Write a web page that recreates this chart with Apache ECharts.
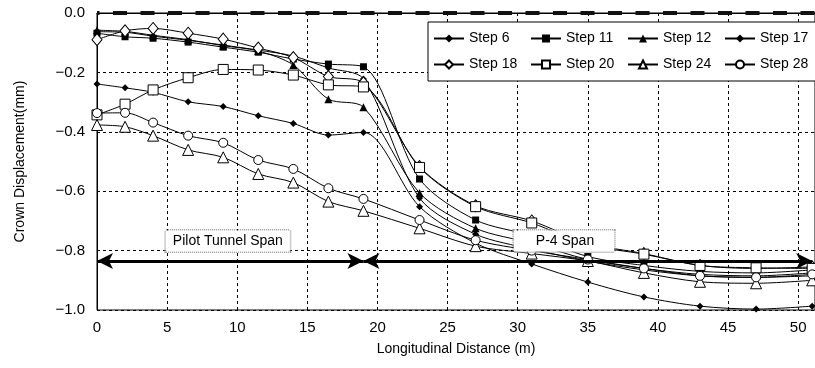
<!DOCTYPE html>
<html>
<head>
<meta charset="utf-8">
<script src="https://cdn.jsdelivr.net/npm/echarts@6/dist/echarts.min.js"></script>
<style>
  html, body { margin: 0; padding: 0; background: #fff; }
  #chart { width: 815px; height: 368px; }
</style>
</head>
<body>
<div id="chart"></div>
<script>
// longitudinal distance of the measuring points (m)
var distance = [0, 2, 4, 6.5, 9, 11.5, 14, 16.5, 19, 23, 27, 31, 35, 39, 43, 47, 51];

// crown displacement (mm) per excavation step
var step6  = [-0.063, -0.065, -0.078, -0.092, -0.108, -0.125, -0.145, -0.185, -0.222, -0.623, -0.745, -0.795, -0.835, -0.865, -0.885, -0.89, -0.885];
var step11 = [-0.068, -0.08, -0.085, -0.098, -0.115, -0.132, -0.155, -0.172, -0.181, -0.559, -0.697, -0.75, -0.82, -0.85, -0.87, -0.875, -0.865];
var step12 = [-0.058, -0.062, -0.075, -0.09, -0.11, -0.128, -0.175, -0.29, -0.317, -0.606, -0.725, -0.775, -0.83, -0.86, -0.88, -0.885, -0.875];
var step17 = [-0.239, -0.252, -0.267, -0.299, -0.315, -0.346, -0.372, -0.411, -0.402, -0.652, -0.775, -0.845, -0.906, -0.956, -0.987, -0.997, -0.987];
var step18 = [-0.09, -0.06, -0.052, -0.068, -0.088, -0.118, -0.15, -0.214, -0.235, -0.517, -0.649, -0.7, -0.775, -0.81, -0.85, -0.86, -0.855];
var step20 = [-0.343, -0.307, -0.259, -0.218, -0.19, -0.192, -0.209, -0.242, -0.249, -0.52, -0.652, -0.707, -0.78, -0.812, -0.85, -0.858, -0.86];
var step24 = [-0.377, -0.383, -0.413, -0.461, -0.486, -0.542, -0.571, -0.635, -0.666, -0.725, -0.785, -0.81, -0.835, -0.875, -0.905, -0.91, -0.9];
var step28 = [-0.337, -0.336, -0.369, -0.413, -0.437, -0.495, -0.525, -0.59, -0.626, -0.697, -0.765, -0.8, -0.83, -0.86, -0.885, -0.89, -0.88];

var stepNames = ['Step 6', 'Step 11', 'Step 12', 'Step 17', 'Step 18', 'Step 20', 'Step 24', 'Step 28'];
var stepValues = [step6, step11, step12, step17, step18, step20, step24, step28];
var stepSymbols = ['diamond', 'rect', 'triangle', 'diamond', 'diamond', 'rect', 'triangle', 'circle'];
var stepSizes = [7, 7, 8, 7, [10, 12], 10, 11, 9];
var stepOpen = [false, false, false, false, true, true, true, true];

// span annotations
var spanStart = [0, 19];
var spanEnd = [19, 51];
var spanLevel = -0.835;
var spanLabels = ['Pilot Tunnel Span', 'P-4 Span'];
var spanLabelX = [9.33, 33.3];
var spanLabelY = -0.768;

var xMax = 51.2;

function pairs(xs, ys) {
    var out = [];
    for (var i = 0; i < xs.length; i++) {
        out.push([xs[i], ys[i]]);
    }
    return out;
}

var chart = echarts.init(document.getElementById('chart'), null, { renderer: 'canvas' });

var series = [];
for (var i = 0; i < stepNames.length; i++) {
    series.push({
        name: stepNames[i],
        type: 'line',
        smooth: 0.3,
        data: pairs(distance, stepValues[i]),
        symbol: stepSymbols[i],
        symbolSize: stepSizes[i],
        showAllSymbol: true,
        lineStyle: { color: '#000', width: 1 },
        itemStyle: {
            color: stepOpen[i] ? '#fff' : '#000',
            borderColor: '#000',
            borderWidth: stepOpen[i] ? 1 : 0
        },
        emphasis: { disabled: true },
        z: 3
    });
}

// thick dashed line along 0.0
series.push({
    name: 'zero',
    type: 'line',
    data: [[0, 0], [xMax, 0]],
    symbol: 'none',
    lineStyle: { color: '#111', width: 4, type: [14, 13.5], dashOffset: 11.5 },
    silent: true,
    z: 4
});

// span arrows + labels
series.push({
    name: 'span',
    type: 'line',
    data: [[0, spanLevel]],
    symbol: 'none',
    lineStyle: { width: 0 },
    silent: true,
    z: 10,
    markLine: {
        silent: true,
        symbol: ['arrow', 'arrow'],
        symbolSize: [12, 16],
        label: { show: false },
        lineStyle: { color: '#000', width: 3, type: 'solid' },
        data: [
            [{ coord: [spanStart[0], spanLevel] }, { coord: [spanEnd[0], spanLevel] }],
            [{ coord: [spanStart[1], spanLevel] }, { coord: [spanEnd[1], spanLevel] }]
        ]
    },
    markPoint: {
        silent: true,
        symbol: 'rect',
        symbolSize: 0,
        label: {
            show: true,
            position: 'inside',
            formatter: '{b}',
            color: '#000',
            fontFamily: 'Liberation Sans',
            fontSize: 14,
            backgroundColor: '#fff',
            borderColor: '#999',
            borderWidth: 1.5,
            borderType: [1, 1],
            padding: [4, 7, 3, 7]
        },
        data: [
            { name: spanLabels[0], coord: [spanLabelX[0], spanLabelY] },
            { name: spanLabels[1], coord: [spanLabelX[1], spanLabelY], label: { padding: [4, 20, 3, 22] } }
        ]
    }
});

chart.setOption({
    backgroundColor: '#fff',
    animation: false,
    textStyle: { fontFamily: 'Liberation Sans' },
    grid: {
        left: 97,
        right: 0,
        top: 13,
        bottom: 58,
        show: true,
        borderColor: '#000',
        borderWidth: 1,
        backgroundColor: 'transparent'
    },
    legend: {
        data: stepNames,
        left: 428,
        top: 22,
        width: 390,
        orient: 'horizontal',
        itemWidth: 30,
        itemHeight: 10,
        itemGap: 3,
        padding: [5, 5, 5, 5],
        backgroundColor: '#fff',
        borderColor: '#000',
        borderWidth: 1,
        textStyle: { color: '#000', fontSize: 14, width: 58, lineHeight: 23, fontFamily: 'Liberation Sans' }
    },
    xAxis: {
        type: 'value',
        min: 0,
        max: xMax,
        interval: 5,
        name: 'Longitudinal Distance (m)',
        nameLocation: 'middle',
        nameGap: 32,
        nameTextStyle: { color: '#000', fontSize: 14 },
        axisLine: { lineStyle: { color: '#000', width: 1 } },
        axisTick: { show: false },
        axisLabel: {
            color: '#000',
            fontSize: 15,
            margin: 10,
            showMaxLabel: false,
            formatter: function (v) { return v % 5 === 0 ? String(v) : ''; }
        },
        splitLine: { show: true, lineStyle: { color: '#000', type: [3, 3], width: 1 } }
    },
    yAxis: {
        type: 'value',
        min: -1,
        max: 0,
        interval: 0.2,
        name: 'Crown Displacement(mm)',
        nameLocation: 'middle',
        nameGap: 70,
        nameTextStyle: { color: '#000', fontSize: 14 },
        axisLine: { show: true, lineStyle: { color: '#000', width: 1 } },
        axisTick: { show: false },
        axisLabel: {
            color: '#000',
            fontSize: 15,
            margin: 12,
            formatter: function (v) {
                var s = Math.abs(v).toFixed(1);
                return v < 0 ? '\u2212' + s : s;
            }
        },
        splitLine: { show: true, lineStyle: { color: '#000', type: [3, 3], width: 1 } }
    },
    series: series
});
</script>
</body>
</html>
